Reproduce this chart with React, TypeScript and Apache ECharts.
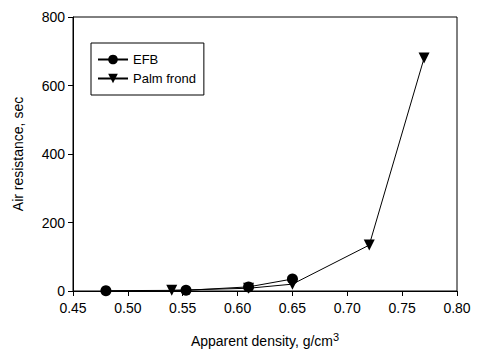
import React, { useEffect, useRef } from "react";
import * as echarts from "echarts";

const efbX = [0.48, 0.553, 0.61, 0.65];
const efbY = [1, 2, 12, 35];
const palmX = [0.54, 0.61, 0.65, 0.72, 0.77];
const palmY = [2, 8, 20, 134, 680];
const xTicks = [0.45, 0.5, 0.55, 0.6, 0.65, 0.7, 0.75, 0.8];
const yTicks = [0, 200, 400, 600, 800];

export default function App() {
  const ref = useRef<HTMLDivElement>(null);
  useEffect(() => {
    const chart = echarts.init(ref.current!, null, { renderer: "svg" });
    const font = "'Liberation Sans', Arial, sans-serif";
    chart.setOption({
      animation: false,
      backgroundColor: "#fff",
      textStyle: { fontFamily: font, color: "#000" },
      grid: { left: 73, right: 21, top: 17, bottom: 68, show: true, borderColor: "#000", borderWidth: 1 },
      legend: {
        orient: "vertical",
        left: 91,
        top: 43,
        borderColor: "#000",
        borderWidth: 1,
        padding: [10, 8, 10, 6],
        itemGap: 6,
        itemWidth: 30,
        itemHeight: 12,
        textStyle: { fontFamily: font, fontSize: 13, color: "#000" },
        data: ["EFB", "Palm frond"],
      },
      xAxis: {
        type: "value",
        min: xTicks[0],
        max: xTicks[xTicks.length - 1],
        interval: 0.05,
        name: "Apparent density, g/cm{sup|3}",
        nameLocation: "middle",
        nameGap: 40,
        nameTextStyle: {
          fontFamily: font,
          fontSize: 14,
          color: "#000",
          rich: { sup: { fontSize: 11, fontFamily: font, color: "#000", padding: [0, 0, 9, 0] } },
        },
        axisLine: { onZero: false, lineStyle: { color: "#000", width: 1 } },
        axisTick: { show: true, inside: false, length: 5, lineStyle: { color: "#000" } },
        axisLabel: { fontSize: 14, color: "#000", fontFamily: font, margin: 10, formatter: (v: number) => v.toFixed(2) },
        splitLine: { show: false },
      },
      yAxis: {
        type: "value",
        min: yTicks[0],
        max: yTicks[yTicks.length - 1],
        interval: 200,
        name: "Air resistance, sec",
        nameLocation: "middle",
        nameGap: 48,
        nameTextStyle: { fontFamily: font, fontSize: 14, color: "#000" },
        axisLine: { show: true, lineStyle: { color: "#000", width: 1 } },
        axisTick: { show: true, inside: false, length: 5, lineStyle: { color: "#000" } },
        axisLabel: { fontSize: 14, color: "#000", fontFamily: font, margin: 8 },
        splitLine: { show: false },
      },
      series: [
        {
          name: "EFB",
          type: "line",
          data: efbX.map((x, i) => [x, efbY[i]]),
          symbol: "circle",
          symbolSize: 11,
          itemStyle: { color: "#000" },
          lineStyle: { color: "#000", width: 1 },
          z: 3,
        },
        {
          name: "Palm frond",
          type: "line",
          data: palmX.map((x, i) => [x, palmY[i]]),
          symbol: "triangle",
          symbolRotate: 180,
          symbolSize: 11,
          itemStyle: { color: "#000" },
          lineStyle: { color: "#000", width: 1 },
          z: 2,
        },
      ],
    });
    return () => chart.dispose();
  }, []);
  return <div ref={ref} style={{ position: "fixed", left: 0, top: 0, width: 478, height: 359 }} />;
}
